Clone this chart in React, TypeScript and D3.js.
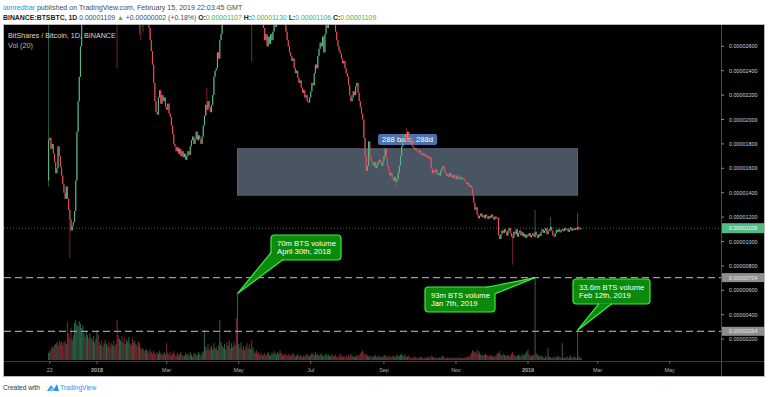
import * as d3 from "d3";

// BTS/BTC daily candles starting 21 Nov 2017 (values in satoshi)
const START = Date.UTC(2017, 10, 21);
const FIRST_OPEN = 1500;

const closes = [
  1830, 1850, 1760, 1800, 1720, 1650, 1560, 1600, 1780, 1700,
  1610, 1540, 1470, 1400, 1350, 1450, 1350, 1260, 1180, 1090,
  1130, 1160, 1250, 1500, 1900, 2150, 2350, 2600, 2950,
  3200, 3500, 3400, 3900, 4300, 4100, 4600, 4900, 4700, 5200,
  5600, 5400, 5900, 5700, 5300, 5500, 4900, 4600, 4800, 4300,
  4500, 4100, 3800, 4000, 3700, 3900, 3600, 3300, 3500, 3100,
  2900, 3200, 3400, 3100, 3300, 3000, 2900, 3100, 3300, 3500,
  3400, 3600, 3300, 3500, 3200, 3400, 3300, 3100, 3200, 3000,
  2950, 3100, 3000, 2900, 3050,
  2900, 2750, 2650, 2560, 2450, 2300, 2150, 2060, 2040, 2180,
  2240, 2130, 2200, 2150, 2180, 2100, 2080, 2130, 2050, 2020,
  1950, 1880, 1800, 1780, 1740, 1770, 1720, 1760, 1700, 1740,
  1690, 1720, 1670, 1700, 1740, 1710, 1780, 1830, 1860, 1800,
  1840, 1900, 1830, 1870, 1840, 1800, 1860, 1950, 2030, 2120,
  2080, 2150, 2100, 2060, 2120, 2200, 2350, 2400, 2420, 2550,
  2500, 2650, 2700, 2800,
  2950, 3100, 3300, 3250, 3500, 3700, 3600, 3900, 4100, 4000,
  4300, 4200, 4500, 4700, 4400, 4600, 4300, 4100, 4200, 3900,
  3700, 3800, 3500, 3600, 3300, 3400, 3200, 3300, 3050, 3150,
  2950, 3050, 2900, 2850,
  2750, 2650, 2700, 2600, 2680, 2620, 2700, 2650, 2720, 2800,
  2760, 2850, 2900, 3000, 2950, 3050, 2980, 2900, 2800, 2720,
  2650, 2600, 2550, 2520,
  2480, 2500, 2420, 2380, 2400, 2340, 2300, 2320, 2260,
  2220, 2240, 2180, 2200, 2150, 2140, 2180,
  2230, 2300, 2280, 2380, 2450, 2420, 2520, 2580, 2630,
  2600, 2680, 2550, 2700, 2780, 2750, 2850, 2900,
  2950, 2880, 2900,
  2800, 2720, 2650, 2600, 2560, 2540,
  2500, 2460, 2480, 2420, 2380, 2350,
  2280, 2200, 2150, 2180,
  2230, 2200, 2270, 2300,
  2220, 2150, 2100, 2050, 2000,
  1850, 1700, 1580, 1620,
  1820, 1700, 1660, 1640, 1620, 1650, 1600, 1630,
  1650, 1670, 1640, 1620, 1660, 1700, 1760, 1680,
  1620, 1580, 1540, 1560, 1520, 1500, 1530, 1490, 1510, 1560,
  1620, 1700, 1780, 1810,
  1850, 1880, 1820, 1900, 1850, 1800, 1830, 1780,
  1770, 1750, 1760, 1740, 1730, 1745, 1720, 1710, 1725, 1700,
  1710, 1690, 1700, 1680, 1690,
  1600, 1560, 1580,
  1570, 1590, 1550, 1560, 1540, 1580, 1600, 1620, 1580, 1560,
  1540, 1550, 1530, 1560, 1540, 1520, 1545, 1530, 1510, 1540,
  1525, 1510, 1530, 1515, 1520,
  1500, 1490, 1470, 1480, 1450, 1460, 1440,
  1380, 1320, 1260, 1280, 1220, 1190, 1210,
  1230, 1200, 1215, 1190, 1220, 1205, 1185, 1210, 1195, 1220,
  1200, 1180, 1205, 1190, 1195,
  1050, 1020,
  1060, 1090, 1070, 1100, 1080, 1050, 1090, 1110, 1070, 1040, 1030,
  1080, 1060, 1100, 1040, 1070, 1090, 1050, 1075,
  1040, 1060, 1030, 1055, 1045, 1070, 1035, 1050, 1065, 1040,
  1080, 1050, 1030, 1060, 1045,
  1080, 1100, 1070, 1090, 1110, 1060, 1085, 1100, 1120, 1090,
  1050, 1040, 1070, 1095, 1080, 1100, 1075,
  1090, 1100, 1085, 1110, 1095, 1105, 1080, 1100, 1115, 1090,
  1105, 1095, 1110, 1100, 1120, 1100, 1107, 1109,
];

// daily volume, millions of BTS
const volumes = [
  8, 10, 12, 15, 14, 17,
  18, 20, 16, 22, 19, 21, 17, 20, 22, 18,
  43,
  30, 25, 36, 22, 28,
  42, 45, 40, 38, 44, 41, 36, 39,
  30, 26, 33, 28, 24, 30,
  25, 22, 27, 20, 24, 34, 28,
  20, 17, 22, 15, 19, 23, 18, 16, 21, 14, 19, 17, 22, 15, 18, 45,
  28, 24, 22, 27, 20, 25, 18, 23, 21, 26, 19, 17, 24, 20, 22, 18, 16, 21, 19,
  14, 12, 13, 10, 11, 12,
  10, 8, 12, 9, 7, 11, 8, 6, 9, 7, 10, 8, 6, 7, 9, 6,
  19,
  8, 6, 9, 5, 7, 10, 6, 4, 8, 5, 7, 9, 6, 4, 5, 8,
  6, 7, 5, 9, 6, 4, 7, 8, 5, 6, 9, 7, 5, 8, 10,
  34,
  15, 12, 18, 11, 14, 16, 12, 19, 13, 15, 11, 17,
  45,
  20, 16,
  14, 18, 12, 20, 16, 22, 13, 19, 15, 21, 17,
  47, 75,
  18, 14, 20, 12, 16, 11, 15, 19, 13, 17,
  12, 22, 14, 10, 8, 11, 7, 9, 6, 8, 5,
  6, 8, 5, 7, 9, 6, 5, 8, 7, 10,
  8, 6, 9, 7, 11, 8, 6, 5, 7, 6,
  5, 7, 4, 6, 5, 8, 6, 4, 5, 7,
  4, 6, 5, 3, 5, 4, 6, 7, 5, 4,
  6, 8, 7, 5, 9, 6, 7, 5, 6, 8,
  5, 4, 6, 7, 5, 6, 4, 5, 7, 4,
  5, 6, 4, 3, 5, 7, 4, 5, 3, 4,
  5, 3, 6, 4, 7, 5, 4, 3, 5, 4,
  6, 5, 7, 9, 11, 8, 6, 7, 5, 4,
  5, 4, 3, 5, 4, 6, 3, 4, 5, 3,
  4, 3, 5, 6, 4, 3, 5, 4, 3, 4,
  5, 3, 4, 6, 5, 4,
  6, 7, 5, 4, 6, 3, 4, 5, 3, 2,
  3, 2, 4, 3, 2, 3, 2, 4, 3, 2,
  2, 3, 2, 3, 4, 2, 5, 4, 3, 2,
  3, 2, 2, 3, 2, 4, 5, 3, 2, 2,
  3, 2, 2, 3, 2, 2, 3, 2, 3, 2,
  2, 3, 2, 2, 3, 2, 3, 4, 3, 5,
  8, 11, 10, 9, 8, 12, 7, 10, 6, 5,
  6, 5, 7, 6, 5, 4, 6, 5, 4, 5,
  4, 5, 8, 7, 10, 6, 5, 7, 6, 5,
  5, 6, 4, 5, 7, 9, 6, 5, 4, 5,
  6, 5, 4, 7, 5, 6, 8, 10, 12, 6,
  5, 4, 6, 5, 93, 8, 6, 5, 4, 5,
  4, 3, 2, 5, 3, 13, 4, 3, 2, 3,
  4, 2, 3, 5, 3, 4, 2, 19, 3, 2,
  3, 4, 2, 3, 5, 2, 3, 4, 3, 2,
  33.6, 4, 3, 2,
];

// notable wicks: [day index, high, low]
const wicks = [
  [0, 3000, 1450], [18, 1200, 865], [58, 3200, 2420], [77, 3300, 2700],
  [78, 3100, 2650], [80, 3200, 2720], [134, 2260, 2040], [172, 3600, 2470],
  [294, 1520, 1440], [303, 1930, 1800], [393, 1060, 810], [412, 1258, 1030],
  [425, 1200, 1080], [448, 1234, 1090],
];

const priceTicks = [200, 400, 600, 800, 1000, 1200, 1400, 1600, 1800, 2000, 2200, 2400, 2600];
const timeTicks = [
  ["2017-11-22", "22"], ["2018-01-01", "2018"], ["2018-03-01", "Mar"], ["2018-05-01", "May"],
  ["2018-07-01", "Jul"], ["2018-09-01", "Sep"], ["2018-11-01", "Nov"], ["2019-01-01", "2019"],
  ["2019-03-01", "Mar"], ["2019-05-01", "May"],
];
const levels = [704, 264];
const LAST = 1109;
// date range box: 288 bars
const zoneTop = 1760, zoneBottom = 1380, zoneFrom = "2018-04-30", zoneTo = "2019-02-12";

const callouts = [
  { date: "2018-04-30", lines: ["70m BTS volume", "April 30th, 2018"], box: [271, 235, 70, 25], base: [[271.5, 252], [283, 259.5]] },
  { date: "2019-01-07", lines: ["93m BTS volume", "Jan 7th, 2019"], box: [425, 287, 70, 25], base: [[486, 287.5], [494.5, 294]] },
  { date: "2019-02-12", lines: ["33.6m BTS volume", "Feb 12th, 2019"], box: [573, 279, 77, 25], base: [[599, 303.5], [612, 303.5]] },
];

const UP = "#53b987";
const DOWN = "#eb4d5c";
const AXIS_FONT = "'Liberation Sans', Arial, sans-serif";
const fmt = (v: number) => (v * 1e-8).toFixed(8);

export default function App() {
  const x = d3.scaleUtc()
    .domain([new Date(Date.UTC(2018, 0, 1)), new Date(Date.UTC(2019, 0, 1))])
    .range([97, 528]);
  const y = d3.scaleLinear().domain([1000, 2000]).range([241.5, 119.5]);
  const yVol = d3.scaleLinear().domain([0, 93]).range([360, y(704)]);
  const day = (i: number) => new Date(START + i * 864e5);
  const utc = (s: string) => new Date(s + "T00:00:00Z");
  const idxOf = (s: string) => Math.round((+utc(s) - START) / 864e5);

  const candles = closes.map((c, i) => {
    const o = i === 0 ? FIRST_OPEN : closes[i - 1];
    const w = wicks.find((d) => d[0] === i);
    return {
      i, o, c,
      hi: Math.max(o, c, w ? w[1] : 0),
      lo: Math.min(o, c, w ? w[2] : Infinity),
      v: volumes[i] || 0,
      cx: x(day(i)),
      up: c >= o,
    };
  });

  const plotL = 4, plotR = 721, plotT = 25, plotB = 361;
  const zx0 = x(utc(zoneFrom)), zx1 = x(utc(zoneTo));

  return (
    <div>
      <style>{`body{margin:0;background:#fff}`}</style>
      <svg width={768} height={397} style={{ display: "block", fontFamily: AXIS_FONT }}>
        <defs>
          <clipPath id="plot">
            <rect x={plotL} y={plotT} width={plotR - plotL} height={plotB - plotT} />
          </clipPath>
        </defs>

        {/* header */}
        <text x={3} y={9.5} fontSize={7.1}>
          <tspan fill="#2196f3">iamredbar</tspan>
          <tspan fill="#4a4a4a"> published on TradingView.com, February 15, 2019 22:03:45 GMT</tspan>
        </text>
        <text x={3} y={19.5} fontSize={6.9} fill="#4a4a4a">
          <tspan fontWeight={700} fill="#222">BINANCE:BTSBTC, 1D</tspan>
          <tspan> 0.00001109 </tspan>
          <tspan fill="#43b643">▲</tspan>
          <tspan> +0.00000002 (+0.18%) </tspan>
          <tspan fontWeight={700} fill="#222">O:</tspan><tspan fill="#43b643">0.00001107</tspan>
          <tspan fontWeight={700} fill="#222"> H:</tspan><tspan fill="#43b643">0.00001130</tspan>
          <tspan fontWeight={700} fill="#222"> L:</tspan><tspan fill="#43b643">0.00001106</tspan>
          <tspan fontWeight={700} fill="#222"> C:</tspan><tspan fill="#43b643">0.00001109</tspan>
        </text>

        {/* panel */}
        <rect x={3.5} y={24.5} width={761} height={352} fill="#000" stroke="#b8b8b8" />
        <line x1={721.5} x2={721.5} y1={25} y2={376} stroke="#4a4a4a" />
        <line x1={4} x2={764} y1={361.5} y2={361.5} stroke="#3a3a3a" />

        <g clipPath="url(#plot)">
          {/* zone */}
          <rect x={zx0} y={y(zoneTop)} width={zx1 - zx0} height={y(zoneBottom) - y(zoneTop)} fill="#4a5563" stroke="#5b6675" />
          <rect x={(zx0 + zx1) / 2 - 29.5} y={134} width={59} height={11} rx={2} fill="#4a72ad" />
          <text x={(zx0 + zx1) / 2 - 25.5} y={142.3} fontSize={7.6} fill="#fff" textLength={51} lengthAdjust="spacingAndGlyphs">288 bars, 288d</text>

          {/* volume */}
          {candles.map((d) => (
            <rect key={"v" + d.i} x={d.cx - 0.55} width={1.1} y={yVol(d.v)} height={360 - yVol(d.v)}
              fill={d.up ? "rgba(83,185,135,0.5)" : "rgba(235,77,92,0.5)"} />
          ))}

          {/* levels */}
          {levels.map((l) => (
            <line key={l} x1={plotL} x2={plotR} y1={y(l)} y2={y(l)} stroke="#9a9a9a" strokeWidth={1.3} strokeDasharray="7,4" />
          ))}
          <line x1={plotL} x2={plotR} y1={y(LAST)} y2={y(LAST)} stroke={UP} strokeOpacity={0.6} strokeDasharray="1,2" />

          {/* candles */}
          {candles.map((d) => {
            const col = d.up ? UP : DOWN;
            const top = y(Math.max(d.o, d.c));
            const h = Math.max(1, y(Math.min(d.o, d.c)) - top);
            return (
              <g key={"c" + d.i}>
                <line x1={d.cx} x2={d.cx} y1={y(d.hi)} y2={y(d.lo)} stroke={col} strokeWidth={0.7} strokeOpacity={0.7} />
                <rect x={d.cx - 0.55} width={1.1} y={top} height={h} fill={col} />
              </g>
            );
          })}

          {/* callouts */}
          {callouts.map((c) => {
            const i = idxOf(c.date);
            const tx = candles[i].cx;
            const ty = yVol(candles[i].v);
            const [bx, by, bw, bh] = c.box;
            const [a, b] = c.base;
            return (
              <g key={c.date}>
                <rect x={bx} y={by} width={bw} height={bh} rx={3.5} fill="#0b8a0b" stroke="#3df03d" strokeWidth={1.2} />
                <polygon points={`${a[0]},${a[1]} ${b[0]},${b[1]} ${tx},${ty}`} fill="#0b8a0b" />
                <line x1={a[0]} y1={a[1]} x2={tx} y2={ty} stroke="#3df03d" strokeWidth={1.2} />
                <line x1={b[0]} y1={b[1]} x2={tx} y2={ty} stroke="#3df03d" strokeWidth={1.2} />
                {c.lines.map((t, k) => (
                  <text key={k} x={bx + 6} y={by + 10.5 + k * 8.5} fontSize={7.7} fill="#fff">{t}</text>
                ))}
              </g>
            );
          })}
        </g>

        {/* legend */}
        <text x={8} y={38} fontSize={7.2} fill="#d8d8d8">BitShares / Bitcoin, 1D, BINANCE</text>
        <text x={8} y={47.5} fontSize={7.2} fill="#bdbdbd">Vol (20)</text>

        {/* price axis */}
        {priceTicks.map((v) => (
          <g key={v}>
            <line x1={721} x2={724} y1={y(v)} y2={y(v)} stroke="#888" />
            <text x={729} y={y(v) + 2} fontSize={5.4} fill="#d0d0d0">{fmt(v)}</text>
          </g>
        ))}
        {levels.map((l) => (
          <g key={"l" + l}>
            <rect x={722} y={y(l) - 4.5} width={42} height={9} fill="#8e8e8e" />
            <text x={729} y={y(l) + 2} fontSize={5.4} fill="#e6e6e6">{fmt(l)}</text>
          </g>
        ))}
        <rect x={722} y={y(LAST) - 5} width={42} height={10} fill={UP} />
        <text x={729} y={y(LAST) + 2} fontSize={5.4} fill="#fff">{fmt(LAST)}</text>

        {/* time axis */}
        {timeTicks.map(([d, t]) => {
          const tx = x(utc(d));
          return (
            <g key={d}>
              <line x1={tx} x2={tx} y1={361} y2={364} stroke="#666" />
              <text x={tx} y={371.5} fontSize={5.4} textAnchor="middle" fill="#b0b0b0" fontWeight={/\d{4}/.test(t) ? 700 : 400}>{t}</text>
            </g>
          );
        })}

        {/* footer */}
        <text x={3} y={390} fontSize={6.6} fill="#333">Created with</text>
        <g transform="translate(47,383)">
          <path d="M0,8 L4,2 L7,6 L10,1 L12,8 Z" fill="#2196f3" />
          <path d="M2,8 L5,4 L8,8 Z" fill="#7cc4f7" />
        </g>
        <text x={60} y={390} fontSize={6.6} fill="#2196f3">TradingView</text>
      </svg>
    </div>
  );
}
